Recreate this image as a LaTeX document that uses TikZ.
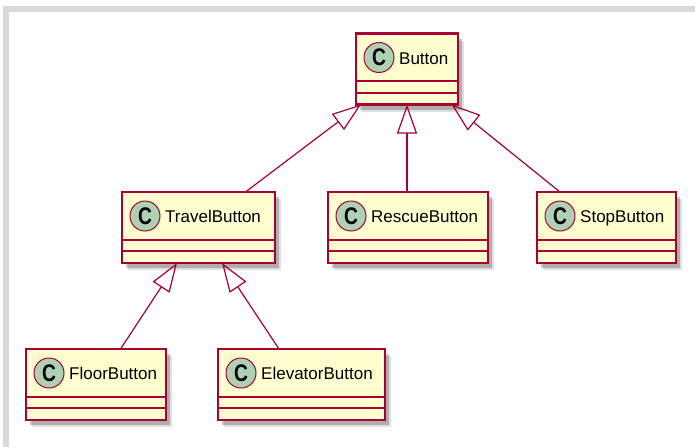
\documentclass[tikz,border=0pt]{standalone}
\usepackage{fontspec}
\setmainfont{Liberation Sans}
\usepackage{graphicx}
\usepackage{tikz}
\usetikzlibrary{arrows.meta,shadows,calc}

\definecolor{umlred}{HTML}{A80036}
\definecolor{umlfill}{HTML}{FEFECE}
\definecolor{umlgreen}{HTML}{ADD1B2}
\definecolor{framegray}{HTML}{D9D9D9}

\tikzset{
  umlclass/.style={draw=umlred, fill=umlfill, line width=2.2pt, minimum height=71pt,
    inner sep=0pt, outer sep=0pt,
    drop shadow={shadow xshift=6pt, shadow yshift=-7pt, opacity=0.12, fill=black},
    drop shadow={shadow xshift=4pt, shadow yshift=-5pt, opacity=0.22, fill=black}},
  classmark/.style={circle, draw=umlred, fill=umlgreen, line width=1pt, minimum size=30pt,
    inner sep=0pt, font=\fontsize{24}{24}\selectfont\bfseries},
  classtitle/.style={anchor=base west, inner sep=0pt, font=\fontsize{17}{17}\selectfont},
  sepline/.style={draw=umlred, line width=2pt},
  extends/.style={draw=umlred, line width=1.2pt,
    -{Triangle[open, length=29pt, width=20pt, line width=1.2pt]}},
}

\begin{document}
\begin{tikzpicture}[x=1pt, y=-1pt]
    \path[use as bounding box, fill=white] (0,0) rectangle (695,447);
    % frame
    \fill[framegray] (3,6) rectangle (695,12);
    \fill[framegray] (3,6) rectangle (9,447);

    % classes
    \foreach \name/\title/\cx/\cy/\w in {button/Button/407/69/102,
        travel/TravelButton/198.5/227.5/153, rescue/RescueButton/408/227.5/160,
        stop/StopButton/606.5/227.5/139, floor/FloorButton/96/384.5/140,
        elevator/ElevatorButton/301.5/384.5/167} {
        \node[umlclass, minimum width=\w pt] (\name) at (\cx,\cy) {};
        \node[classmark] (\name-c) at ([xshift=23pt,yshift=-24pt]\name.north west) {\scalebox{0.8}[1]{C}};
        \node[classtitle] (\name-t) at ([xshift=43pt,yshift=-30.5pt]\name.north west) {\title};

        % fields and methods
        \draw[sepline] ([yshift=-47.5pt]\name.north west) -- ([yshift=-47.5pt]\name.north east);
        \draw[sepline] ([yshift=-59pt]\name.north west) -- ([yshift=-59pt]\name.north east);
    }

    % inheritance
    \draw[extends] ([xshift=47pt]travel.north) -- ([xshift=-46pt]button.south);
    \draw[extends] ([xshift=-1pt]rescue.north) -- (button.south);
    \draw[extends] ([xshift=-46.5pt]stop.north) -- ([xshift=44.5pt]button.south);
    \draw[extends] ([xshift=24.5pt]floor.north) -- ([xshift=-21.5pt]travel.south);
    \draw[extends] ([xshift=-22.5pt]elevator.north) -- ([xshift=23.5pt]travel.south);
\end{tikzpicture}
\end{document}
